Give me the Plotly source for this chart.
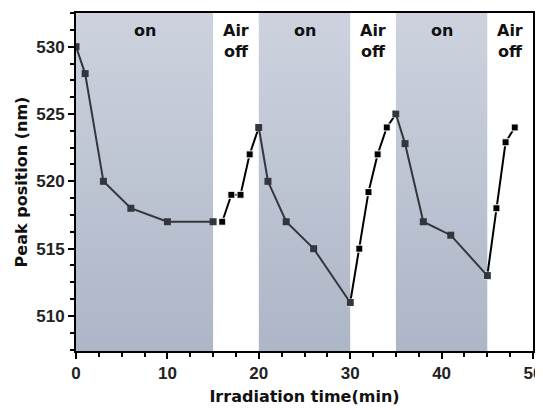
import plotly.graph_objects as go

# data
on_x = [0, 1, 3, 6, 10, 15, None, 20, 21, 23, 26, 30, None, 35, 36, 38, 41, 45]
on_y = [530, 528, 520, 518, 517, 517, None, 524, 520, 517, 515, 511, None, 525, 522.8, 517, 516, 513]
off_x = [16, 17, 18, 19, 20, None, 30, 31, 32, 33, 34, 35, None, 45, 46, 47, 48]
off_y = [517, 519, 519, 522, 524, None, 511, 515, 519.2, 522, 524, 525, None, 513, 518, 522.9, 524]
on_periods = [(0, 15), (20, 30), (35, 45)]
label_x = [7.5, 17.5, 25, 32.5, 40, 47.5]
label_text = ["on", "Air<br>off", "on", "Air<br>off", "on", "Air<br>off"]

y_range = [507.4, 532.5]
x_range = [0, 50]

fig = go.Figure()

for (a, b) in on_periods:
    fig.add_trace(go.Scatter(
        x=[a, b, b, a, a], y=[y_range[0], y_range[0], y_range[1], y_range[1], y_range[0]],
        mode="lines", line=dict(width=0), fill="toself",
        fillgradient=dict(type="vertical", colorscale=[[0, "#adb6c7"], [1, "#cdd2de"]]),
        hoverinfo="skip", showlegend=False))

fig.add_trace(go.Scatter(
    x=off_x, y=off_y, mode="lines+markers",
    line=dict(color="#000000", width=2),
    marker=dict(symbol="square", size=7, color="#000000", line=dict(color="white", width=1)),
    showlegend=False))

fig.add_trace(go.Scatter(
    x=on_x, y=on_y, mode="lines+markers",
    line=dict(color="#33363d", width=2),
    marker=dict(symbol="square", size=7, color="#33363d"),
    showlegend=False))

for xv, t in zip(label_x, label_text):
    fig.add_annotation(x=xv, y=0.982, xref="x", yref="paper", text=t, showarrow=False,
                       yanchor="top", xanchor="center",
                       font=dict(family="DejaVu Sans", size=16, color="#111111", weight="bold"))

axis_common = dict(
    showgrid=False, zeroline=False, showline=True, linecolor="black", linewidth=2,
    mirror=True, ticks="outside", ticklen=6, tickwidth=2, tickcolor="black",
    automargin=False,
    tickfont=dict(family="Liberation Sans", size=17, color="#222222", weight="bold"),
)

fig.update_xaxes(range=x_range, dtick=10, tick0=0,
                 minor=dict(ticks="outside", dtick=2.5, ticklen=4, tickwidth=1.5, tickcolor="black"),
                 title=dict(text="Irradiation time(min)", standoff=8,
                            font=dict(family="DejaVu Sans", size=16, color="#111111", weight="bold")),
                 **axis_common)
fig.update_yaxes(range=y_range, dtick=5, tick0=510,
                 minor=dict(ticks="outside", dtick=1.25, tick0=510, ticklen=4, tickwidth=1.5, tickcolor="black"),
                 title=dict(text="Peak position (nm)", standoff=5,
                            font=dict(family="DejaVu Sans", size=16, color="#111111", weight="bold")),
                 **axis_common)

# page body has an 8px default margin, so the figure is sized to fit inside it
fig.update_layout(
    width=535, height=402,
    margin=dict(l=68, r=10, t=5, b=59),
    plot_bgcolor="white", paper_bgcolor="white",
)

fig.write_html("out.html")
